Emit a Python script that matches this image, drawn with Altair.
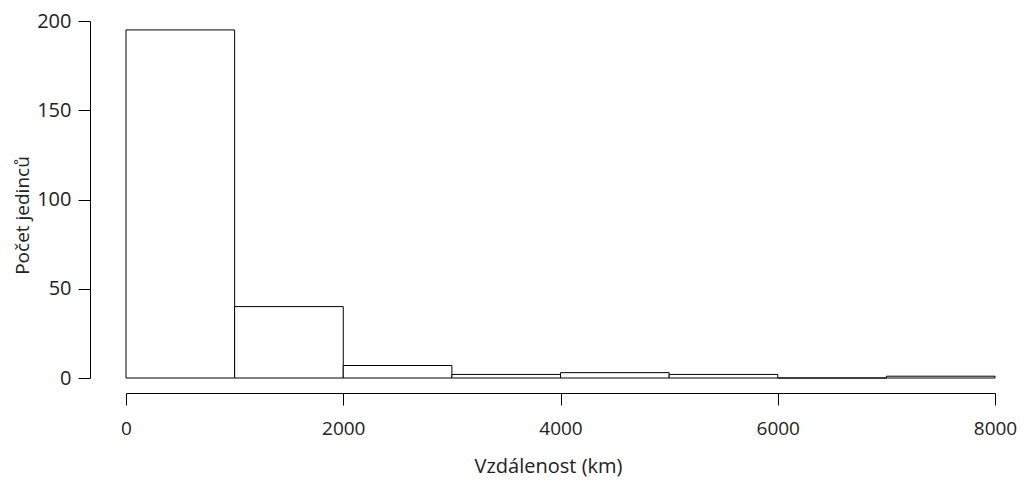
import altair as alt
import pandas as pd

bin_start = [0, 1000, 2000, 3000, 4000, 5000, 6000, 7000]
bin_end = [1000, 2000, 3000, 4000, 5000, 6000, 7000, 8000]
counts = [195, 40, 7, 2, 3, 2, 0, 1]

x_ticks = [0, 2000, 4000, 6000, 8000]
y_ticks = [0, 50, 100, 150, 200]

df = pd.DataFrame({"start": bin_start, "end": bin_end, "count": counts})

FONT = "Open Sans"
FS = 20

bars = alt.Chart(df).mark_rect(fill="white", stroke="black", strokeWidth=1).encode(
    x=alt.X(
        "start:Q",
        scale=alt.Scale(domain=[0, 8000], nice=False, zero=False),
        axis=alt.Axis(
            values=x_ticks,
            format="d",
            title="Vzdálenost (km)",
            offset=15,
            grid=False,
            tickSize=12,
            labelPadding=14,
            labelFontSize=19,
            labelFont=FONT,
            labelColor="#222",
            labelFlush=False,
            titleFont=FONT,
            titleFontSize=FS,
            titleFontWeight="normal",
            titleColor="#222",
            titleX=422,
            titleY=73,
            titleBaseline="middle",
            titleAlign="center",
            domainColor="black",
            tickColor="black",
        ),
    ),
    x2="end:Q",
    y=alt.Y(
        "count:Q",
        scale=alt.Scale(domain=[0, 200], nice=False),
        axis=alt.Axis(
            values=y_ticks,
            format="d",
            title="Počet jedinců",
            offset=36,
            grid=False,
            tickSize=12,
            labelPadding=7,
            labelFontSize=FS,
            labelFont=FONT,
            labelColor="#222",
            labelFlush=False,
            titleFont=FONT,
            titleFontSize=19,
            titleFontWeight="normal",
            titleColor="#222",
            titleX=-68,
            titleY=194,
            titleBaseline="middle",
            titleAlign="center",
            titleAngle=270,
            domainColor="black",
            tickColor="black",
        ),
    ),
    y2=alt.datum(0),
)

chart = bars.properties(
    width=869,
    height=357,
    autosize=alt.AutoSizeParams(type="none"),
    padding={"left": 118, "top": 13, "right": 22, "bottom": 101},
    background="white",
).configure_view(stroke=None)

chart.save("out.html", embed_options={"renderer": "svg", "actions": False})
